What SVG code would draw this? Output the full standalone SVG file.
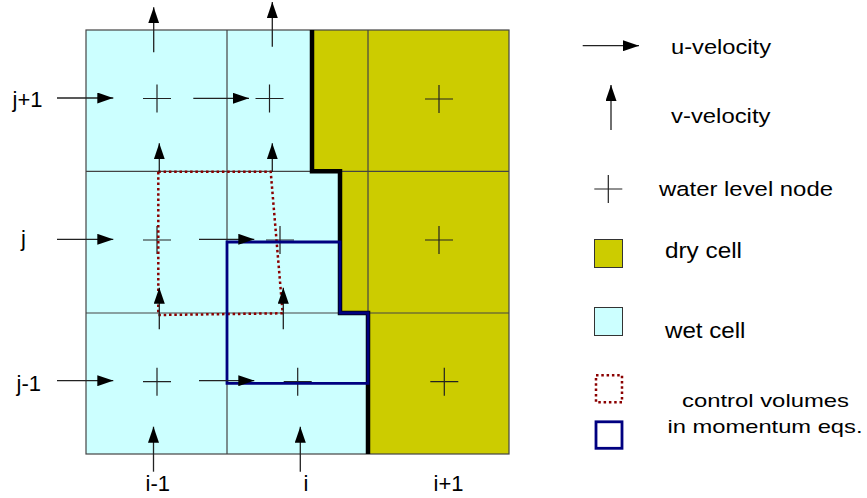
<svg xmlns="http://www.w3.org/2000/svg" width="867" height="498" viewBox="0 0 867 498">
<defs>
<marker id="ah" viewBox="0 0 16 11" refX="16" refY="5.5" markerWidth="16" markerHeight="11" markerUnits="userSpaceOnUse" orient="auto">
<path d="M0,0 L16,5.5 L0,11 z" fill="#000"/>
</marker>
<style>
.wet{fill:#ccffff}
.dry{fill:#cccc00}
.grid{stroke:#444;stroke-width:1.2;fill:none}
.bnd{stroke:#000;stroke-width:4.5;fill:none;stroke-linejoin:miter}
.cvr{stroke:#8b0000;stroke-width:2.5;fill:none;stroke-dasharray:2.5 2.8}
.cvb{stroke:#000080;stroke-width:2.8;fill:none}
.vel{stroke:#222;stroke-width:1.3;fill:none;marker-end:url(#ah)}
.node{stroke:#222;stroke-width:1.2;fill:none}
.lbl{font-family:"Liberation Sans",Arial,sans-serif;font-size:22px;fill:#000}
.leg{font-family:"Liberation Sans",Arial,sans-serif;fill:#000}
</style>
</defs>

<g id="cells">
<g id="cell-im1-jp1"><rect class="wet" x="86" y="30" width="141" height="141"/></g>
<g id="cell-im1-j"><rect class="wet" x="86" y="171" width="141" height="142"/></g>
<g id="cell-im1-jm1"><rect class="wet" x="86" y="313" width="141" height="141"/></g>
<g id="cell-i-jp1"><rect class="wet" x="227" y="30" width="85" height="141"/><rect class="dry" x="312" y="30" width="56" height="141"/></g>
<g id="cell-i-j"><rect class="wet" x="227" y="171" width="113" height="142"/><rect class="dry" x="340" y="171" width="28" height="142"/></g>
<g id="cell-i-jm1"><rect class="wet" x="227" y="313" width="141" height="141"/></g>
<g id="cell-ip1-jp1"><rect class="dry" x="368" y="30" width="141" height="141"/></g>
<g id="cell-ip1-j"><rect class="dry" x="368" y="171" width="141" height="142"/></g>
<g id="cell-ip1-jm1"><rect class="dry" x="368" y="313" width="141" height="141"/></g>
</g>

<g id="gridlines">
<rect class="grid" x="86" y="30" width="423" height="424"/>
<path class="grid" d="M227,30 V454 M368,30 V313 M86,171.3 H509 M86,313 H509"/>
</g>

<g id="wet-dry-boundary">
<path class="bnd" d="M312,30 V171.3 H340 V313 H368 V454"/>
</g>

<g id="nodes">
<path class="node" d="M143,98.5 H171 M157,84.5 V112.5"/>
<path class="node" d="M255.5,98.5 H283.5 M269.5,84.5 V112.5"/>
<path class="node" d="M425,99 H453 M439,85 V113"/>
<path class="node" d="M143,240 H171 M157,226 V254"/>
<path class="node" d="M266,240 H294 M280,226 V254"/>
<path class="node" d="M425,240 H453 M439,226 V254"/>
<path class="node" d="M143,381.7 H171 M157,367.7 V395.7"/>
<path class="node" d="M283.7,381.7 H311.7 M297.7,367.7 V395.7"/>
<path class="node" d="M430.3,381.7 H458.3 M444.3,367.7 V395.7"/>
</g>

<g id="control-volumes">
<path id="cv-v" class="cvr" d="M158.3,171.7 L270.7,171.7 L282.7,313.3 L158.3,315 Z"/>
<path id="cv-u" class="cvb" d="M227,242 H340 V313 H368 V383.3 H227 Z"/>
</g>

<g id="connectors">
<line class="vel" x1="57" y1="98" x2="113.3" y2="98"/>
<line class="vel" x1="193.3" y1="98.3" x2="249" y2="98.3"/>
<line class="vel" x1="57" y1="239.3" x2="113.3" y2="239.3"/>
<line class="vel" x1="199" y1="239.3" x2="254.3" y2="239.3"/>
<line class="vel" x1="57" y1="380.7" x2="113.3" y2="380.7"/>
<line class="vel" x1="199" y1="380.7" x2="254.3" y2="380.7"/>
<line class="vel" x1="153.7" y1="52.3" x2="153.7" y2="7.3"/>
<line class="vel" x1="272.3" y1="46.7" x2="272.3" y2="2"/>
<line class="vel" x1="159.3" y1="172" x2="159.3" y2="143.3"/>
<line class="vel" x1="272.3" y1="172" x2="272.3" y2="143.3"/>
<line class="vel" x1="159.3" y1="329.3" x2="159.3" y2="287.7"/>
<line class="vel" x1="283.3" y1="329.3" x2="283.3" y2="287.7"/>
<line class="vel" x1="153.5" y1="471.7" x2="153.5" y2="426.7"/>
<line class="vel" x1="300.3" y1="471.7" x2="300.3" y2="426.7"/>
</g>

<g id="labels">
<text class="lbl" x="12.5" y="107.3">j+1</text>
<text class="lbl" x="21" y="246">j</text>
<text class="lbl" x="16.5" y="391">j-1</text>
<text class="lbl" x="145.5" y="491">i-1</text>
<text class="lbl" x="303.5" y="491">i</text>
<text class="lbl" x="433.5" y="491">i+1</text>
</g>

<g id="legend">
<g id="leg-u">
<line class="vel" x1="582.7" y1="45.7" x2="639" y2="45.7"/>
<text class="leg" x="671" y="54" font-size="20.5" textLength="100" lengthAdjust="spacingAndGlyphs">u-velocity</text>
</g>
<g id="leg-v">
<line class="vel" x1="611" y1="130" x2="611" y2="85"/>
<text class="leg" x="671" y="123.3" font-size="21" textLength="99.5" lengthAdjust="spacingAndGlyphs">v-velocity</text>
</g>
<g id="leg-node">
<path class="node" d="M594.3,189 H622.3 M608.3,175 V203"/>
<text class="leg" x="659" y="195.7" font-size="20.5" textLength="174" lengthAdjust="spacingAndGlyphs">water level node</text>
</g>
<g id="leg-dry">
<rect x="594.5" y="239.5" width="28" height="28" fill="#cccc00" stroke="#333" stroke-width="1"/>
<text class="leg" x="665" y="257.7" font-size="22" textLength="77" lengthAdjust="spacingAndGlyphs">dry cell</text>
</g>
<g id="leg-wet">
<rect x="594.5" y="307.5" width="28" height="28" fill="#ccffff" stroke="#333" stroke-width="1"/>
<text class="leg" x="665" y="338.3" font-size="21.5" textLength="80.5" lengthAdjust="spacingAndGlyphs">wet cell</text>
</g>
<g id="leg-cv">
<rect x="596" y="375.2" width="26" height="27" class="cvr"/>
<rect x="596" y="421.8" width="26" height="26.5" class="cvb" stroke-width="3"/>
<text class="leg" x="682" y="406.7" font-size="18.5" textLength="167" lengthAdjust="spacingAndGlyphs">control volumes</text>
<text class="leg" x="667.5" y="432.7" font-size="18.5" textLength="195" lengthAdjust="spacingAndGlyphs">in momentum eqs.</text>
</g>
</g>
</svg>
